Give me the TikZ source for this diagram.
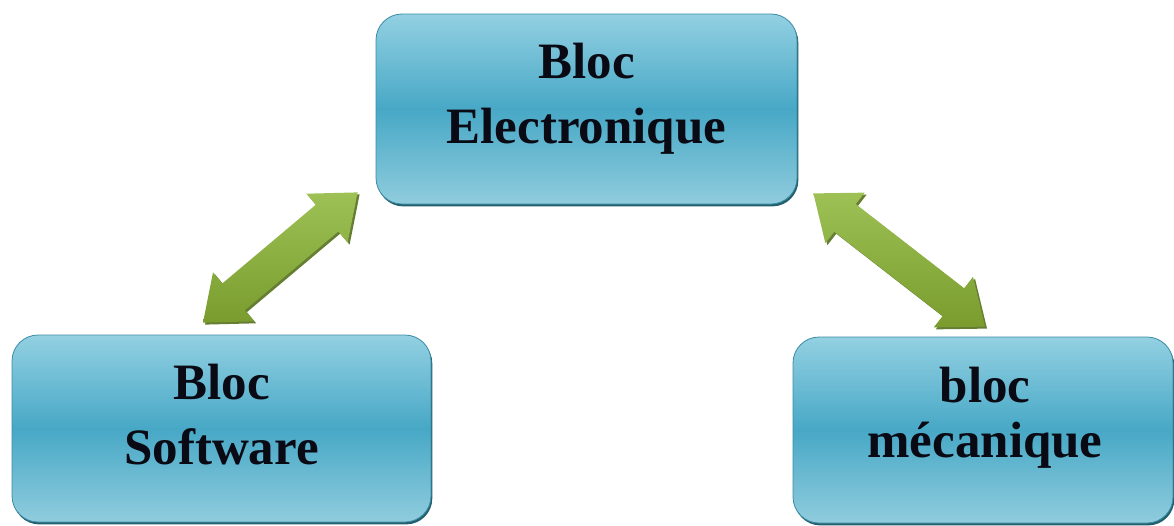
\documentclass[tikz,border=0pt]{standalone}
\usepackage{fontspec}
\setmainfont{Liberation Serif}
\usetikzlibrary{calc,shadows}

\definecolor{boxtop}{HTML}{93D0E2}
\definecolor{boxmid}{HTML}{47A8C6}
\definecolor{boxbottom}{HTML}{90CCDD}
\definecolor{boxedge}{HTML}{3B8CA3}
\definecolor{boxshadow}{HTML}{235F6E}
\definecolor{labelink}{HTML}{0A0A14}
\definecolor{arrowlight}{HTML}{9DC155}
\definecolor{arrowdark}{HTML}{7A9C2E}
\definecolor{arrowshadow}{HTML}{55701E}

% double-headed fat arrow between two named points
% #1 = first tip, #2 = second tip
\newcommand{\fatlink}[2]{%
  \path[linkbody]
    (#1)
    -- ($($(#1)!40pt!(#2)$)!32pt!90:(#2)$)
    -- ($($(#1)!40pt!(#2)$)!17.5pt!90:(#2)$)
    -- ($($(#2)!40pt!(#1)$)!17.5pt!-90:(#1)$)
    -- ($($(#2)!40pt!(#1)$)!32pt!-90:(#1)$)
    -- (#2)
    -- ($($(#2)!40pt!(#1)$)!32pt!90:(#1)$)
    -- ($($(#2)!40pt!(#1)$)!17.5pt!90:(#1)$)
    -- ($($(#1)!40pt!(#2)$)!17.5pt!-90:(#2)$)
    -- ($($(#1)!40pt!(#2)$)!32pt!-90:(#2)$)
    -- cycle;}

\begin{document}
\begin{tikzpicture}[x=1pt,y=-1pt,
  bloc/.style={draw=boxedge, line width=0.8pt, rounded corners=26pt,
    top color=boxtop, bottom color=boxbottom, middle color=boxmid,
    inner sep=0pt,
    drop shadow={shadow xshift=1.3pt, shadow yshift=-2.4pt,
      fill=boxshadow, opacity=1}},
  bloctext/.style={font=\fontsize{51}{65}\selectfont\bfseries,
    text=labelink, align=center, inner sep=0pt},
  linkbody/.style={top color=arrowlight, bottom color=arrowdark,
    drop shadow={shadow xshift=2pt, shadow yshift=-2pt,
      fill=arrowshadow, opacity=0.9}}]
\useasboundingbox (0,0) rectangle (1174,525);

% the three blocks
\node[bloc, minimum width=421pt, minimum height=190pt] (elec) at (586.5,109) {};
\node[bloc, minimum width=419pt, minimum height=187pt] (soft) at (221.5,428.5) {};
\node[bloc, minimum width=380pt, minimum height=186pt] (meca) at (983,430) {};

% block titles
\node[bloctext] (elecT) at ([yshift=10.6pt]elec.center) {Bloc\\Electronique};
\node[bloctext] (softT) at ([yshift=14pt]soft.center) {Bloc\\Software};
\node[bloctext, font=\fontsize{51}{55}\selectfont\bfseries]
  (mecaT) at ([shift={(2pt,12.6pt)}]meca.center) {bloc\\mécanique};

% arrow tips, set just off the blocks
\coordinate (sw1) at ([shift={(-18.5,-12)}]soft.north);
\coordinate (sw2) at ([shift={(-18,-12)}]elec.south west);
\coordinate (me1) at ([shift={(16,-11)}]elec.south east);
\coordinate (me2) at ([shift={(2,-10)}]meca.north);

\fatlink{sw1}{sw2}
\fatlink{me1}{me2}
\end{tikzpicture}
\end{document}
